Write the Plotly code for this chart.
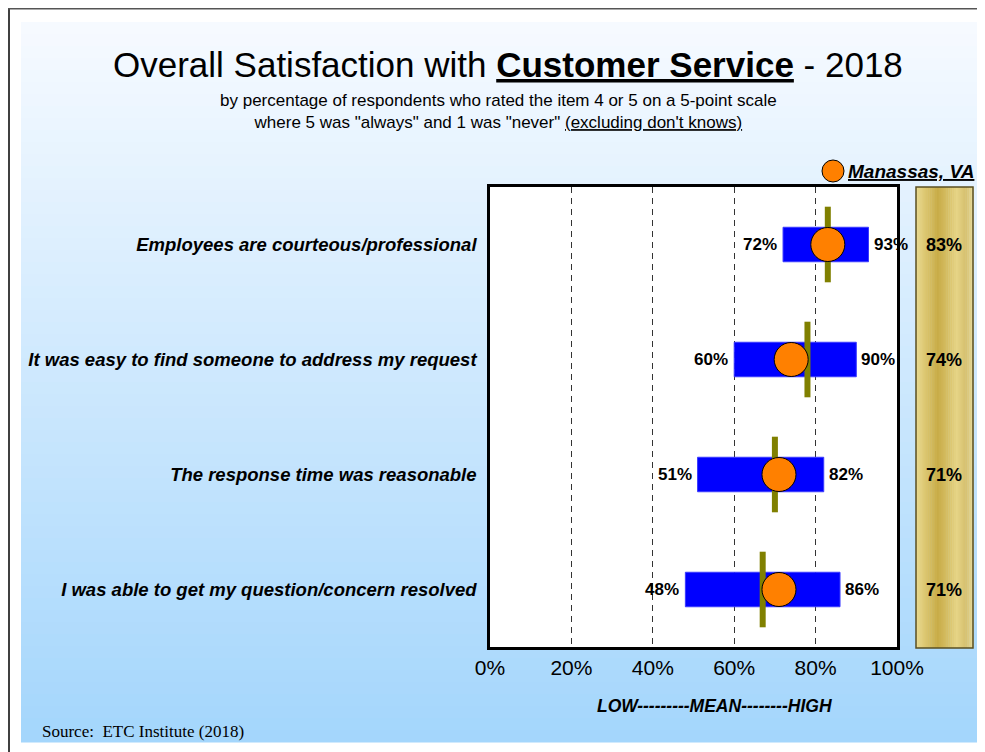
import plotly.graph_objects as go

# data
items = ["Employees are courteous/professional",
         "It was easy to find someone to address my request",
         "The response time was reasonable",
         "I was able to get my question/concern resolved"]
low = [72, 60, 51, 48]
high = [93, 90, 82, 86]
mean = [83, 78, 70, 67]
manassas = [83, 74, 71, 71]

W, H = 985, 752
OFF = 8                              # page margin of the browser
L, R, T, B = 490, 897, 187, 647      # plot area in screen px


def px_x(x):
    return (x - L) / (R - L)


def px_y(y):
    return (B - y) / (B - T)


def lerp(c0, c1, t):
    return "rgb(%d,%d,%d)" % tuple(round(a + (b - a) * t) for a, b in zip(c0, c1))


shapes = []
# page background gradient (top near white -> light blue)
n = 60
top, bot = 22, 742
for i in range(n):
    y0 = top + (bot - top) * i / n
    y1 = top + (bot - top) * (i + 1) / n + 0.5
    shapes.append(dict(type="rect", xref="paper", yref="paper", layer="below",
                       x0=px_x(21), x1=px_x(982), y0=px_y(y1), y1=px_y(y0),
                       fillcolor=lerp((246, 250, 255), (164, 214, 252), i / (n - 1)),
                       line_width=0))
# white plot area
shapes.append(dict(type="rect", xref="paper", yref="paper", layer="below",
                   x0=0, x1=1, y0=0, y1=1, fillcolor="white", line_width=0))
# frame lines of the page
shapes.append(dict(type="line", xref="paper", yref="paper", x0=px_x(9), x1=px_x(9),
                   y0=px_y(8), y1=px_y(760), line=dict(color="black", width=1.5)))
shapes.append(dict(type="line", xref="paper", yref="paper", x0=px_x(6), x1=px_x(990),
                   y0=px_y(8.5), y1=px_y(8.5), line=dict(color="#555555", width=2)))

# gold column with a metallic horizontal gradient
stops = [(0.0, (232, 217, 143)), (0.15, (220, 198, 112)), (0.38, (200, 172, 72)),
         (0.55, (214, 190, 100)), (0.72, (230, 213, 135)), (0.88, (214, 192, 110)),
         (1.0, (228, 214, 148))]
gx0, gx1 = 916, 973
m = 30
for i in range(m):
    t = i / (m - 1)
    for (a, ca), (b, cb) in zip(stops[:-1], stops[1:]):
        if a <= t <= b:
            col = lerp(ca, cb, (t - a) / (b - a))
            break
    x0 = gx0 + (gx1 - gx0) * i / m
    x1 = gx0 + (gx1 - gx0) * (i + 1) / m + 0.5
    shapes.append(dict(type="rect", xref="paper", yref="paper", layer="below",
                       x0=px_x(x0), x1=px_x(x1), y0=px_y(648), y1=px_y(187),
                       fillcolor=col, line_width=0))
shapes.append(dict(type="rect", xref="paper", yref="paper", x0=px_x(gx0), x1=px_x(gx1),
                   y0=px_y(648), y1=px_y(187), line=dict(color="#5a4f22", width=1.5)))
# legend circle
shapes.append(dict(type="circle", xref="paper", yref="paper", x0=px_x(822), x1=px_x(844),
                   y0=px_y(182), y1=px_y(160), fillcolor="#ff8000",
                   line=dict(color="black", width=1)))

fig = go.Figure()
fig.add_trace(go.Bar(y=items, x=[h - l for h, l in zip(high, low)], base=low,
                     orientation="h", width=0.3, marker_color="#0000ff",
                     marker_line=dict(color="#3a3aff", width=1), showlegend=False,
                     hoverinfo="skip"))
# mean (olive line) - plotly line symbols are drawn 1.4x the size
fig.add_trace(go.Scatter(y=items, x=mean, mode="markers", showlegend=False,
                         marker=dict(symbol="line-ns", size=54,
                                     line=dict(color="#808000", width=6))))
fig.add_trace(go.Scatter(y=items, x=manassas, mode="markers", showlegend=False,
                         name="Manassas, VA",
                         marker=dict(size=34, color="#ff8000",
                                     line=dict(color="black", width=1))))

annotations = [
    dict(text="Overall Satisfaction with <b><u>Customer Service</u></b> - 2018",
         x=px_x(508), y=px_y(64), font=dict(family="Arial", size=35, color="black")),
    dict(text="by percentage of respondents who rated the item 4 or 5 on a 5-point scale<br>"
              "where 5 was \"always\" and 1 was \"never\" <u>(excluding don't knows)</u>",
         x=px_x(498), y=px_y(111), font=dict(family="Arial", size=17, color="black")),
    dict(text="<b><i><u>Manassas, VA</u></i></b>", x=px_x(846), y=px_y(171), xanchor="left",
         font=dict(family="Arial", size=19, color="black")),
    dict(text="<b><i>LOW---------MEAN--------HIGH</i></b>", x=px_x(714), y=px_y(706),
         font=dict(family="Arial", size=17.5, color="black")),
    dict(text="Source:&nbsp; ETC Institute (2018)", x=px_x(40), y=px_y(731), xanchor="left",
         font=dict(family="Liberation Serif, Times New Roman", size=17, color="black")),
]
for it, v in zip(items, manassas):
    annotations.append(dict(text="<b>%d%%</b>" % v, x=px_x(944), y=it, yref="y",
                            font=dict(family="Arial", size=18, color="black")))
# low / high labels beside the bars
for it, lo, hi in zip(items, low, high):
    annotations.append(dict(text="<b>%d%%</b>" % lo, x=lo, y=it, xref="x", yref="y",
                            xanchor="right", xshift=-4,
                            font=dict(family="Arial", size=17, color="black")))
    annotations.append(dict(text="<b>%d%%</b>" % hi, x=hi, y=it, xref="x", yref="y",
                            xanchor="left", xshift=3,
                            font=dict(family="Arial", size=17, color="black")))
for a in annotations:
    a.setdefault("xref", "paper")
    a.setdefault("yref", "paper")
    a.setdefault("showarrow", False)
    a.setdefault("xanchor", "center")
    a["yanchor"] = "middle"

fig.update_layout(
    width=W, height=H,
    margin=dict(l=L - OFF, r=W - R + OFF, t=T - OFF, b=H - B + OFF),
    paper_bgcolor="white", plot_bgcolor="rgba(0,0,0,0)",
    shapes=shapes, annotations=annotations, showlegend=False,
    xaxis=dict(range=[0, 100], dtick=20, ticksuffix="%", showgrid=True,
               gridcolor="#333333", griddash="6px,5px", gridwidth=1, zeroline=False,
               showline=True, mirror=True, linecolor="black", linewidth=2.5,
               ticks="", tickfont=dict(family="Arial", size=21, color="black")),
    yaxis=dict(categoryorder="array", categoryarray=items[::-1], range=[-0.5, 3.5],
               showgrid=False, zeroline=False, showline=True, mirror=True,
               linecolor="black", linewidth=2.5, ticks="outside", ticklen=7,
               tickcolor="rgba(0,0,0,0)",
               tickfont=dict(family="Arial", size=18.5, color="black")),
)
fig.update_yaxes(ticktext=["<b><i>%s</i></b>" % s for s in items[::-1]],
                 tickvals=items[::-1])
fig.write_html("out.html")
